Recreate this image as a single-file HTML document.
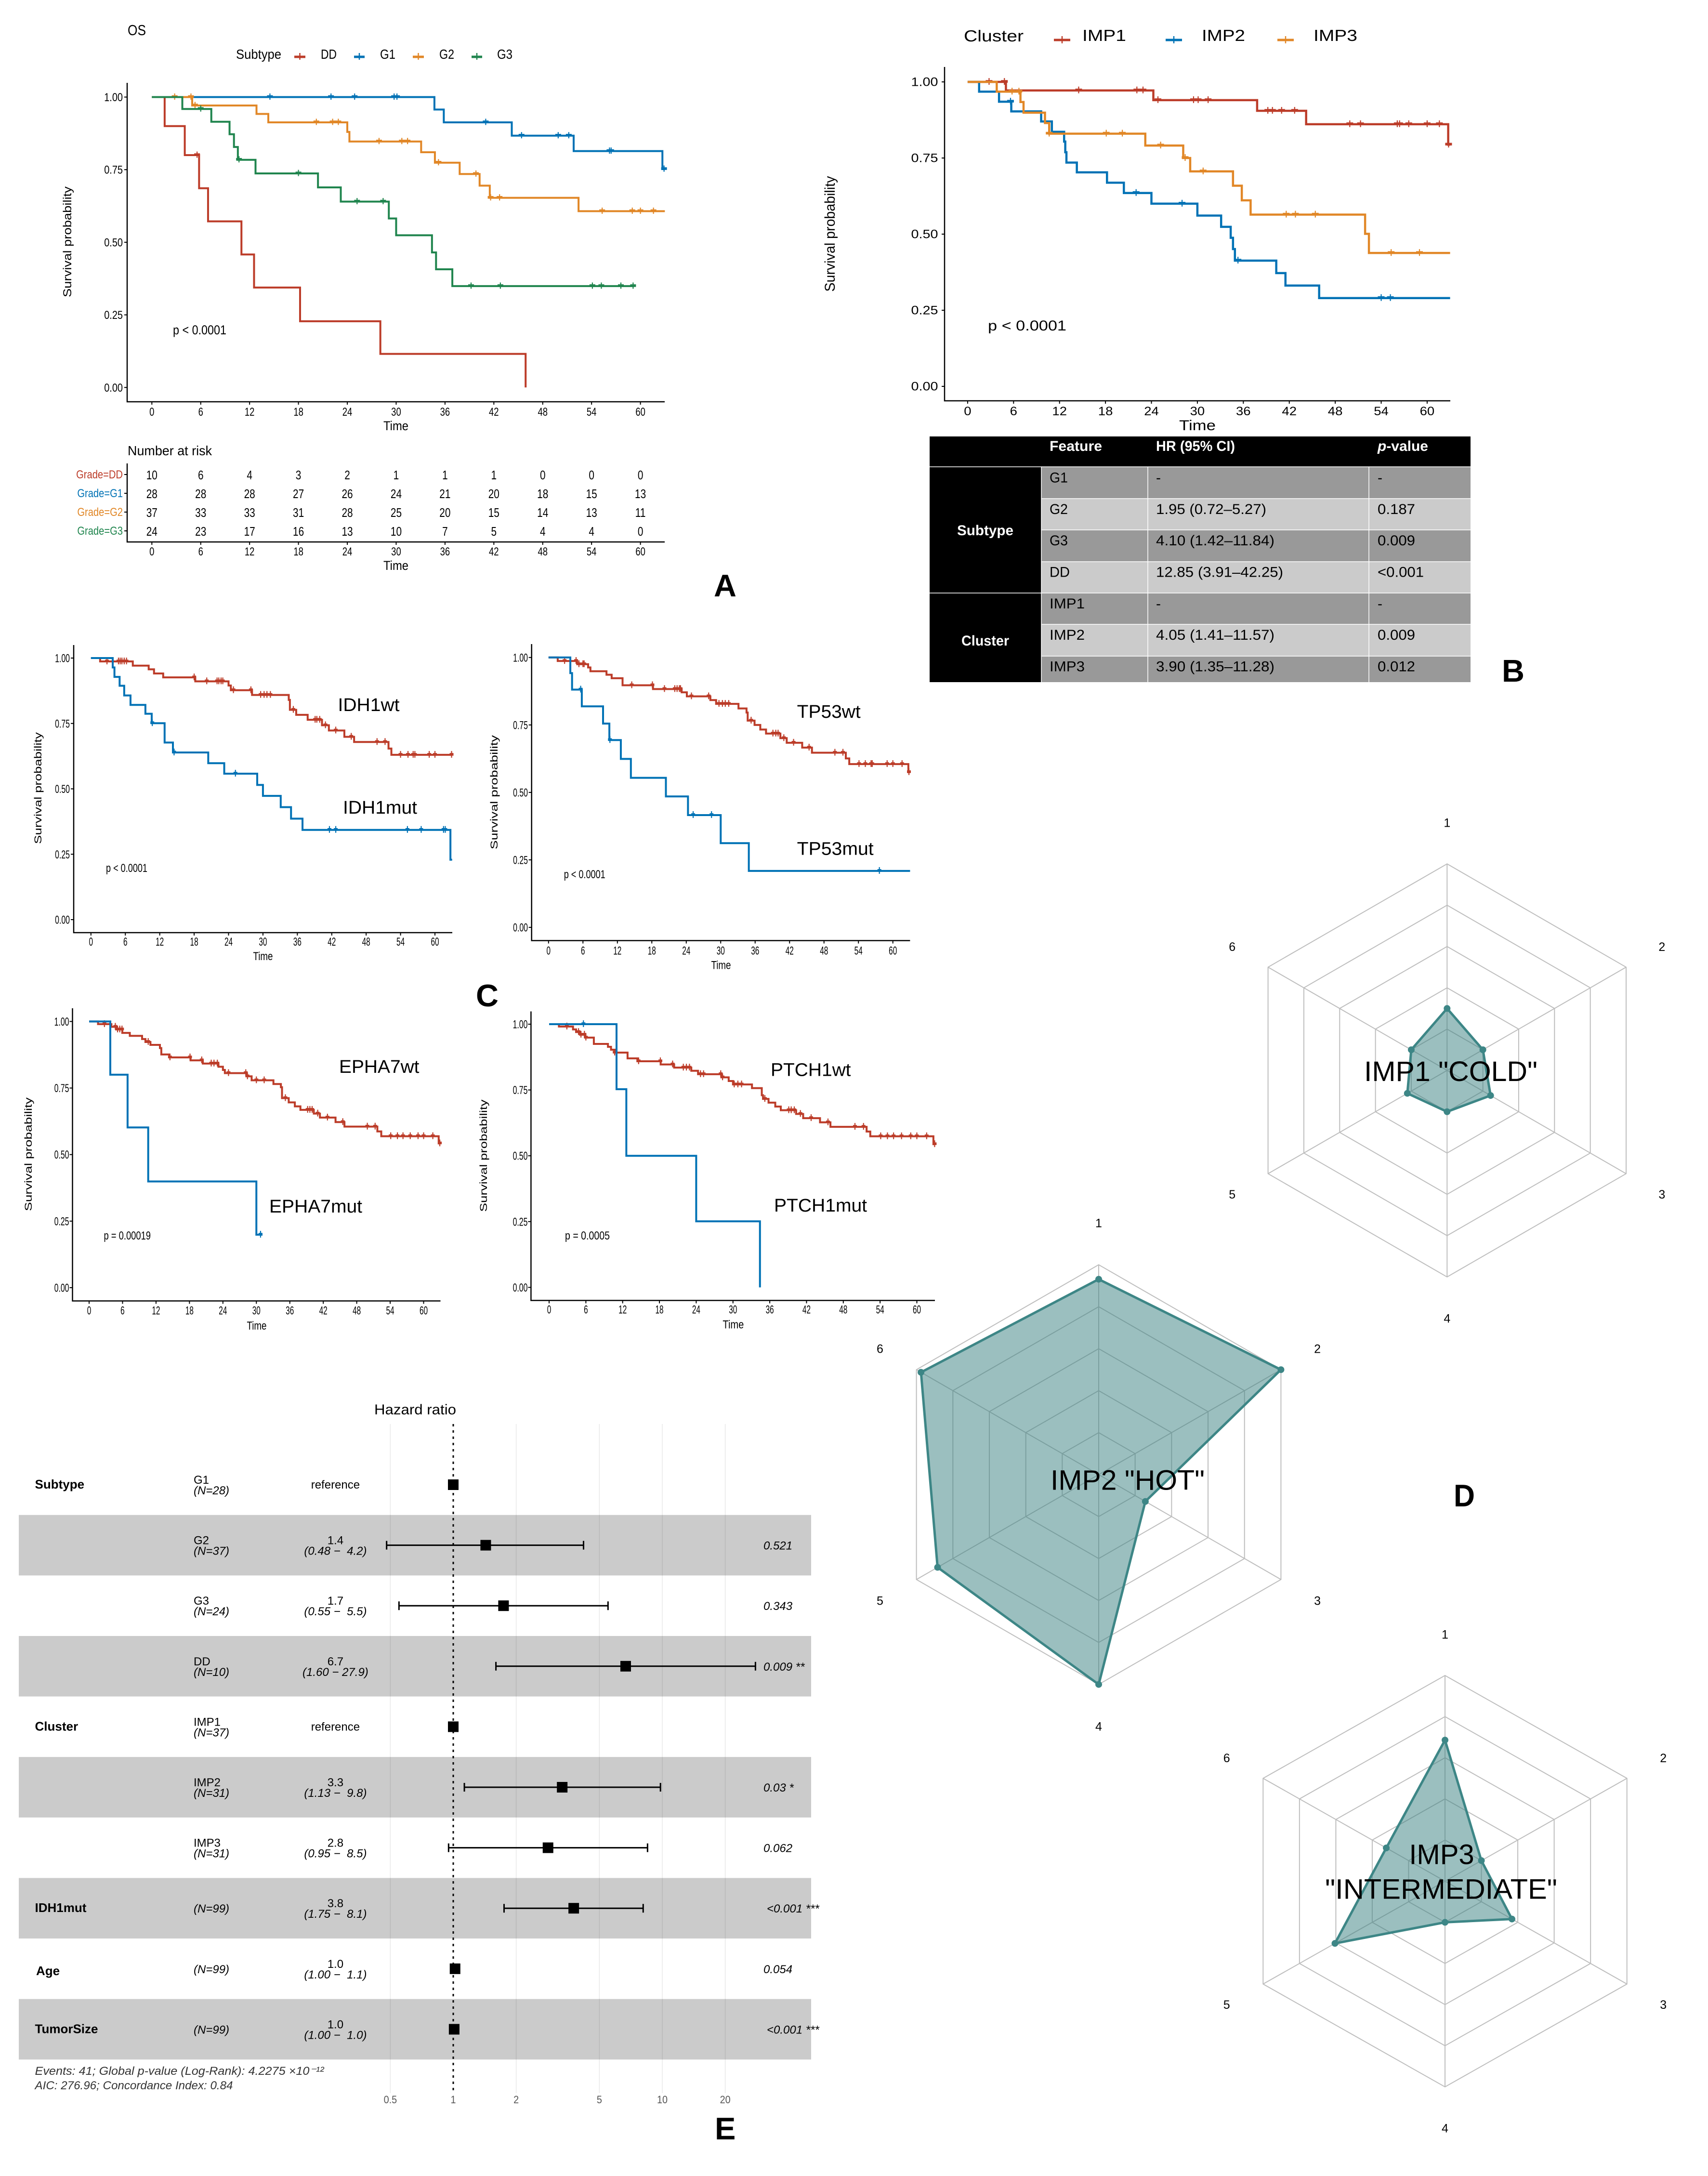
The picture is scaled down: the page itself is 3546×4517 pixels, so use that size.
<!DOCTYPE html>
<html lang="en">
<head>
<meta charset="utf-8">
<title>Survival analysis composite figure</title>
<style>
html,body{margin:0;padding:0;background:#fff;}
svg{display:block;}
text{font-family:"Liberation Sans",sans-serif;fill:#000;}
</style>
</head>
<body>
<svg id="figure" xmlns="http://www.w3.org/2000/svg" width="3546" height="4517" viewBox="0 0 3546 4517">
<rect x="0" y="0" width="3546" height="4517" fill="#fff"/>

<g id="forest-layer"></g>
<g id="km-layer"></g>
<g id="radar-layer"></g>

<!-- Panel A static text -->
<g>
<text x="265" y="73" font-size="31" textLength="38" lengthAdjust="spacingAndGlyphs">OS</text>
<text x="490" y="122" font-size="28" textLength="94" lengthAdjust="spacingAndGlyphs">Subtype</text>
<g><line x1="611" x2="634" y1="118" y2="118" stroke="#BC3C29" stroke-width="5"/><line x1="622.5" x2="622.5" y1="110" y2="124" stroke="#BC3C29" stroke-width="2.5"/></g>
<text x="666" y="122" font-size="28" textLength="33" lengthAdjust="spacingAndGlyphs">DD</text>
<g><line x1="735" x2="757" y1="118" y2="118" stroke="#0072B5" stroke-width="5"/><line x1="746" x2="746" y1="110" y2="124" stroke="#0072B5" stroke-width="2.5"/></g>
<text x="789" y="122" font-size="28" textLength="32" lengthAdjust="spacingAndGlyphs">G1</text>
<g><line x1="857" x2="880" y1="118" y2="118" stroke="#E18727" stroke-width="5"/><line x1="868.5" x2="868.5" y1="110" y2="124" stroke="#E18727" stroke-width="2.5"/></g>
<text x="912" y="122" font-size="28" textLength="31" lengthAdjust="spacingAndGlyphs">G2</text>
<g><line x1="979" x2="1001" y1="118" y2="118" stroke="#20854E" stroke-width="5"/><line x1="990" x2="990" y1="110" y2="124" stroke="#20854E" stroke-width="2.5"/></g>
<text x="1032" y="122" font-size="28" textLength="32" lengthAdjust="spacingAndGlyphs">G3</text>
<text x="359" y="694" font-size="27" textLength="111" lengthAdjust="spacingAndGlyphs">p &lt; 0.0001</text>
<text x="822" y="893" font-size="27" text-anchor="middle" textLength="52" lengthAdjust="spacingAndGlyphs">Time</text>
<text transform="translate(148,502) rotate(-90)" font-size="24" text-anchor="middle" textLength="230" lengthAdjust="spacingAndGlyphs">Survival probability</text>
<text x="265" y="945" font-size="28" textLength="175" lengthAdjust="spacingAndGlyphs">Number at risk</text>
<text x="822" y="1183" font-size="27" text-anchor="middle" textLength="52" lengthAdjust="spacingAndGlyphs">Time</text>
<text x="1482" y="1238" font-size="65" font-weight="bold">A</text>
</g>

<!-- Panel B static text -->
<g>
<text x="2001" y="86" font-size="33" textLength="124" lengthAdjust="spacingAndGlyphs">Cluster</text>
<g><line x1="2188" x2="2222" y1="83" y2="83" stroke="#BC3C29" stroke-width="5"/><line x1="2205" x2="2205" y1="75" y2="90" stroke="#BC3C29" stroke-width="2.5"/></g>
<text x="2247" y="85" font-size="33" textLength="91" lengthAdjust="spacingAndGlyphs">IMP1</text>
<g><line x1="2420" x2="2454" y1="83" y2="83" stroke="#0072B5" stroke-width="5"/><line x1="2437" x2="2437" y1="75" y2="90" stroke="#0072B5" stroke-width="2.5"/></g>
<text x="2495" y="85" font-size="33" textLength="90" lengthAdjust="spacingAndGlyphs">IMP2</text>
<g><line x1="2652" x2="2686" y1="83" y2="83" stroke="#E18727" stroke-width="5"/><line x1="2669" x2="2669" y1="75" y2="90" stroke="#E18727" stroke-width="2.5"/></g>
<text x="2727" y="85" font-size="33" textLength="91" lengthAdjust="spacingAndGlyphs">IMP3</text>
<text x="2051" y="686" font-size="30" textLength="163" lengthAdjust="spacingAndGlyphs">p &lt; 0.0001</text>
<text x="2486" y="893" font-size="30" text-anchor="middle" textLength="76" lengthAdjust="spacingAndGlyphs">Time</text>
<text transform="translate(1733,485.5) rotate(-90)" font-size="30" text-anchor="middle" textLength="240" lengthAdjust="spacingAndGlyphs">Survival probability</text>
</g>

<!-- Panel B table -->
<g>
<rect x="1930" y="906" width="1123" height="63" fill="#000"/>
<rect x="1930" y="969" width="232" height="447" fill="#000"/>
<rect x="2162" y="969" width="891" height="66" fill="#999"/>
<rect x="2162" y="1035" width="891" height="65" fill="#cbcbcb"/>
<rect x="2162" y="1100" width="891" height="66" fill="#999"/>
<rect x="2162" y="1166" width="891" height="65" fill="#cbcbcb"/>
<rect x="2162" y="1231" width="891" height="65" fill="#999"/>
<rect x="2162" y="1296" width="891" height="66" fill="#cbcbcb"/>
<rect x="2162" y="1362" width="891" height="54" fill="#999"/>
<g stroke="#fff" stroke-width="1.5">
<line x1="1930" x2="3053" y1="969" y2="969"/><line x1="1930" x2="3053" y1="1231" y2="1231"/>
<line x1="2162" x2="3053" y1="1035" y2="1035"/><line x1="2162" x2="3053" y1="1100" y2="1100"/><line x1="2162" x2="3053" y1="1166" y2="1166"/><line x1="2162" x2="3053" y1="1296" y2="1296"/><line x1="2162" x2="3053" y1="1362" y2="1362"/>
<line x1="2162" x2="2162" y1="969" y2="1416"/><line x1="2383" x2="2383" y1="969" y2="1416"/><line x1="2842" x2="2842" y1="969" y2="1416"/>
</g>
<text x="2179" y="936" font-size="30" font-weight="bold" style="fill:#fff" textLength="109" lengthAdjust="spacingAndGlyphs">Feature</text>
<text x="2400" y="936" font-size="30" font-weight="bold" style="fill:#fff" textLength="164" lengthAdjust="spacingAndGlyphs">HR (95% CI)</text>
<text x="2860" y="936" font-size="30" font-weight="bold" style="fill:#fff" textLength="105" lengthAdjust="spacingAndGlyphs"><tspan font-style="italic">p</tspan>-value</text>
<text x="1987" y="1111" font-size="30" font-weight="bold" style="fill:#fff" textLength="117" lengthAdjust="spacingAndGlyphs">Subtype</text>
<text x="1996" y="1340" font-size="30" font-weight="bold" style="fill:#fff" textLength="99" lengthAdjust="spacingAndGlyphs">Cluster</text>
<g font-size="30">
<text x="2179" y="1001.5" textLength="38" lengthAdjust="spacingAndGlyphs">G1</text>
<text x="2400" y="1001.5">-</text>
<text x="2860" y="1001.5">-</text>
<text x="2179" y="1067" textLength="38" lengthAdjust="spacingAndGlyphs">G2</text>
<text x="2400" y="1067" textLength="229" lengthAdjust="spacingAndGlyphs">1.95 (0.72–5.27)</text>
<text x="2860" y="1067" textLength="78" lengthAdjust="spacingAndGlyphs">0.187</text>
<text x="2179" y="1132" textLength="38" lengthAdjust="spacingAndGlyphs">G3</text>
<text x="2400" y="1132" textLength="246" lengthAdjust="spacingAndGlyphs">4.10 (1.42–11.84)</text>
<text x="2860" y="1132" textLength="78" lengthAdjust="spacingAndGlyphs">0.009</text>
<text x="2179" y="1197.5" textLength="42" lengthAdjust="spacingAndGlyphs">DD</text>
<text x="2400" y="1197.5" textLength="264" lengthAdjust="spacingAndGlyphs">12.85 (3.91–42.25)</text>
<text x="2860" y="1197.5" textLength="96" lengthAdjust="spacingAndGlyphs">&lt;0.001</text>
<text x="2179" y="1263" textLength="73" lengthAdjust="spacingAndGlyphs">IMP1</text>
<text x="2400" y="1263">-</text>
<text x="2860" y="1263">-</text>
<text x="2179" y="1328" textLength="73" lengthAdjust="spacingAndGlyphs">IMP2</text>
<text x="2400" y="1328" textLength="246" lengthAdjust="spacingAndGlyphs">4.05 (1.41–11.57)</text>
<text x="2860" y="1328" textLength="78" lengthAdjust="spacingAndGlyphs">0.009</text>
<text x="2179" y="1393.5" textLength="73" lengthAdjust="spacingAndGlyphs">IMP3</text>
<text x="2400" y="1393.5" textLength="246" lengthAdjust="spacingAndGlyphs">3.90 (1.35–11.28)</text>
<text x="2860" y="1393.5" textLength="78" lengthAdjust="spacingAndGlyphs">0.012</text>
</g>
<text x="3118" y="1415" font-size="65" font-weight="bold">B</text>
</g>

<!-- Panel C static text -->
<g>
<text x="701.5" y="1476" font-size="38" textLength="128" lengthAdjust="spacingAndGlyphs">IDH1wt</text>
<text x="712" y="1689" font-size="38" textLength="154" lengthAdjust="spacingAndGlyphs">IDH1mut</text>
<text x="220" y="1810" font-size="24" textLength="86" lengthAdjust="spacingAndGlyphs">p &lt; 0.0001</text>
<text x="546" y="1993" font-size="24" text-anchor="middle" textLength="41" lengthAdjust="spacingAndGlyphs">Time</text>
<text transform="translate(86,1636) rotate(-90)" font-size="21" text-anchor="middle" textLength="232" lengthAdjust="spacingAndGlyphs">Survival probability</text>

<text x="1654.7" y="1490" font-size="38" textLength="132" lengthAdjust="spacingAndGlyphs">TP53wt</text>
<text x="1654.7" y="1774.5" font-size="38" textLength="159" lengthAdjust="spacingAndGlyphs">TP53mut</text>
<text x="1170.7" y="1823" font-size="24" textLength="86" lengthAdjust="spacingAndGlyphs">p &lt; 0.0001</text>
<text x="1497" y="2011.7" font-size="24" text-anchor="middle" textLength="41" lengthAdjust="spacingAndGlyphs">Time</text>
<text transform="translate(1033,1644.6) rotate(-90)" font-size="21" text-anchor="middle" textLength="237" lengthAdjust="spacingAndGlyphs">Survival probability</text>

<text x="704" y="2227" font-size="38" textLength="166.5" lengthAdjust="spacingAndGlyphs">EPHA7wt</text>
<text x="559" y="2517" font-size="38" textLength="193" lengthAdjust="spacingAndGlyphs">EPHA7mut</text>
<text x="215.5" y="2573" font-size="24" textLength="97.5" lengthAdjust="spacingAndGlyphs">p = 0.00019</text>
<text x="533" y="2760" font-size="24" text-anchor="middle" textLength="41" lengthAdjust="spacingAndGlyphs">Time</text>
<text transform="translate(66,2396) rotate(-90)" font-size="21" text-anchor="middle" textLength="236" lengthAdjust="spacingAndGlyphs">Survival probability</text>

<text x="1600" y="2233.7" font-size="38" textLength="166.5" lengthAdjust="spacingAndGlyphs">PTCH1wt</text>
<text x="1607" y="2515" font-size="38" textLength="193" lengthAdjust="spacingAndGlyphs">PTCH1mut</text>
<text x="1173" y="2573" font-size="24" textLength="93" lengthAdjust="spacingAndGlyphs">p = 0.0005</text>
<text x="1522.4" y="2757.7" font-size="24" text-anchor="middle" textLength="44" lengthAdjust="spacingAndGlyphs">Time</text>
<text transform="translate(1011,2399) rotate(-90)" font-size="21" text-anchor="middle" textLength="233" lengthAdjust="spacingAndGlyphs">Survival probability</text>

<text x="988" y="2089" font-size="65" font-weight="bold">C</text>
</g>

<!-- Panel D static text -->
<g>
<text x="2832" y="2244" font-size="58" textLength="360" lengthAdjust="spacingAndGlyphs">IMP1 "COLD"</text>
<text x="2181" y="3092.6" font-size="58" textLength="320" lengthAdjust="spacingAndGlyphs">IMP2 "HOT"</text>
<text x="2993" y="3869.5" font-size="58" text-anchor="middle">IMP3</text>
<text x="2751" y="3941.7" font-size="58" textLength="482" lengthAdjust="spacingAndGlyphs">"INTERMEDIATE"</text>
<text x="3018" y="3127" font-size="65" font-weight="bold" textLength="44" lengthAdjust="spacingAndGlyphs">D</text>
</g>

<!-- Panel E static text -->
<g>
<text x="777" y="2936" font-size="30" textLength="170" lengthAdjust="spacingAndGlyphs">Hazard ratio</text>
<text x="72.5" y="4307" font-size="24" font-style="italic" style="fill:#333" textLength="600" lengthAdjust="spacingAndGlyphs">Events: 41; Global p-value (Log-Rank): 4.2275 ×10⁻¹²</text>
<text x="72.5" y="4337" font-size="24" font-style="italic" style="fill:#333" textLength="411" lengthAdjust="spacingAndGlyphs">AIC: 276.96; Concordance Index: 0.84</text>
<text x="1484" y="4441" font-size="65" font-weight="bold">E</text>
</g>
</svg>

<script>
// ---------- shared axis data ----------
const timeTicks = [0, 6, 12, 18, 24, 30, 36, 42, 48, 54, 60];
const survTicks = [0, 0.25, 0.5, 0.75, 1];
const survTickLabels = ['0.00', '0.25', '0.50', '0.75', '1.00'];

// ---------- Panel A: subtype ----------
const aDDTimes = [0, 1.57, 4.04, 5.8, 6.9, 11, 12.55, 18.2, 28.06, 45.9];
const aDDSurv = [1, 0.9, 0.8, 0.686, 0.572, 0.458, 0.344, 0.228, 0.1155, 0];
const aDDCensor = [5.55];
const aG1Times = [0, 34.7, 35.85, 44.2, 51.8, 62.7, 63];
const aG1Surv = [1, 0.957, 0.913, 0.867, 0.814, 0.752, 0.752];
const aG1Censor = [14.5, 22, 24.9, 29.75, 30.1, 41, 45.4, 49.9, 51.2, 56.2, 56.4, 62.9];
const aG2Times = [0, 4.95, 12.85, 14.3, 24, 24.26, 33.07, 34.76, 37.8, 40.25, 41.5, 52.4, 63];
const aG2Surv = [1, 0.971, 0.942, 0.913, 0.88, 0.847, 0.81, 0.774, 0.735, 0.695, 0.653, 0.607, 0.607];
const aG2Censor = [2.8, 4.8, 5.3, 20.2, 22.2, 22.9, 27.9, 30.7, 31.4, 35.2, 39.8, 41.6, 42.7, 55.3, 59, 60, 61.6];
const aG3Times = [0, 3.74, 7.3, 9.54, 10.08, 10.56, 12.73, 20.4, 23.2, 29.1, 30, 34.4, 34.9, 36.9, 59.2];
const aG3Surv = [1, 0.959, 0.915, 0.872, 0.828, 0.784, 0.737, 0.689, 0.64, 0.582, 0.524, 0.465, 0.407, 0.349, 0.349];
const aG3Censor = [6, 10.7, 18, 25.2, 28.4, 39.2, 42.8, 54.1, 55.2, 57.6, 59.1];

// Number-at-risk table
const riskLabels = ['Grade=DD', 'Grade=G1', 'Grade=G2', 'Grade=G3'];
const riskDD = [10, 6, 4, 3, 2, 1, 1, 1, 0, 0, 0];
const riskG1 = [28, 28, 28, 27, 26, 24, 21, 20, 18, 15, 13];
const riskG2 = [37, 33, 33, 31, 28, 25, 20, 15, 14, 13, 11];
const riskG3 = [24, 23, 17, 16, 13, 10, 7, 5, 4, 4, 0];

// ---------- Panel B: cluster ----------
const bIMP1Times = [0, 5, 24.25, 37.8, 44.2, 62.75, 63];
const bIMP1Surv = [1, 0.972, 0.94, 0.905, 0.861, 0.794, 0.794];
const bIMP1Censor = [2.8, 4.8, 14.5, 22.1, 22.9, 24.85, 29.5, 30.1, 31.4, 39.2, 39.8, 41, 42.7, 49.9, 51.3, 56.1, 56.4, 57.6, 60, 61.6, 62.8];
const bIMP2Times = [0, 1.5, 4.1, 5.7, 9.6, 11, 12.6, 12.75, 12.9, 14.26, 18.2, 20.4, 24, 30, 33.1, 34.35, 34.65, 34.9, 40.3, 41.5, 45.9, 63];
const bIMP2Surv = [1, 0.968, 0.935, 0.903, 0.87, 0.836, 0.804, 0.769, 0.735, 0.703, 0.669, 0.635, 0.6, 0.561, 0.524, 0.488, 0.451, 0.413, 0.372, 0.331, 0.29, 0.29];
const bIMP2Censor = [5.6, 22, 28, 35.3, 54, 55.2];
const bIMP3Times = [0, 3.8, 6.9, 7.3, 10.1, 10.65, 23.2, 28.15, 29.06, 34.65, 35.8, 36.95, 51.9, 52.4, 63];
const bIMP3Surv = [1, 0.968, 0.934, 0.899, 0.865, 0.83, 0.791, 0.75, 0.706, 0.659, 0.611, 0.564, 0.501, 0.438, 0.438];
const bIMP3Censor = [5.8, 6.7, 10.65, 18.1, 20.2, 25.2, 28.4, 30.75, 41.6, 42.8, 45.4, 55.3, 59];

// ---------- Panel C: mutations ----------
const idhWtTimes = [0, 1.6, 7.3, 10.07, 11, 12.6, 18.2, 24, 24.4, 28.1, 34.5, 34.7, 35.8, 37.8, 40.3, 41.5, 44.2, 45.9, 51.9, 52.4, 63];
const idhWtSurv = [1, 0.987, 0.971, 0.957, 0.941, 0.926, 0.911, 0.895, 0.877, 0.859, 0.84, 0.802, 0.783, 0.764, 0.743, 0.723, 0.699, 0.679, 0.654, 0.63, 0.63];
const idhWtCensor = [2.8, 4.8, 5.1, 5.4, 5.8, 6.2, 18, 20.2, 22, 22.3, 22.7, 23, 24.85, 27.9, 29.6, 30.2, 30.7, 31.3, 35.3, 39.1, 39.4, 39.9, 40.9, 42.7, 45.4, 49.9, 51.3, 54, 55.3, 56.2, 56.5, 59, 60, 62.9];
const idhMutTimes = [0, 3.8, 4.1, 5, 5.8, 6.9, 9.5, 10.6, 12.85, 14.3, 20.46, 23.25, 29, 30, 33.1, 34.9, 36.9, 62.7, 63];
const idhMutSurv = [1, 0.964, 0.928, 0.894, 0.857, 0.821, 0.787, 0.751, 0.677, 0.639, 0.598, 0.558, 0.515, 0.473, 0.43, 0.386, 0.343, 0.229, 0.229];
const idhMutCensor = [10.7, 14.5, 25.2, 41.6, 42.7, 55.2, 57.6, 61.5, 61.8];

const tpWtTimes = [0, 1.6, 5, 6.9, 7.3, 10.1, 11, 12.9, 18.2, 23.2, 24.1, 28.2, 29.2, 33.1, 34.5, 34.7, 35.9, 36.9, 37.9, 40.4, 41.5, 44.2, 45.9, 51.8, 52.4, 62.7, 63];
const tpWtSurv = [1, 0.987, 0.975, 0.963, 0.949, 0.936, 0.923, 0.897, 0.883, 0.871, 0.856, 0.842, 0.828, 0.811, 0.796, 0.766, 0.75, 0.733, 0.718, 0.701, 0.684, 0.666, 0.647, 0.626, 0.605, 0.575, 0.575];
const tpWtCensor = [2.8, 4.8, 5.3, 6, 6.2, 14.5, 18.1, 20.2, 22, 22.4, 22.8, 23, 24.9, 27.9, 29.7, 30.3, 30.8, 31.4, 35.3, 39.1, 39.6, 40, 41, 42.7, 45.4, 49.9, 51.3, 54.1, 55.2, 56.2, 56.4, 59, 60, 61.6, 62.8];
const tpMutTimes = [0, 3.8, 4.1, 5.8, 9.5, 10.6, 12.6, 14.35, 20.45, 24.3, 30, 34.9, 63];
const tpMutSurv = [1, 0.942, 0.881, 0.819, 0.755, 0.694, 0.624, 0.554, 0.485, 0.416, 0.312, 0.209, 0.209];
const tpMutCensor = [5.6, 10.7, 25.2, 28.4, 57.65];

const ephWtTimes = [0, 1.6, 4, 4.85, 5.95, 7.3, 9.5, 10.1, 11, 12.7, 12.95, 14.4, 18.2, 20.4, 23.2, 24, 24.35, 28.2, 29.15, 33.06, 34.4, 34.6, 35.8, 36.9, 37.9, 40.3, 41.4, 44.2, 45.8, 51.7, 52.4, 62.7, 63];
const ephWtSurv = [1, 0.99, 0.98, 0.97, 0.957, 0.946, 0.934, 0.923, 0.912, 0.9, 0.876, 0.865, 0.854, 0.842, 0.83, 0.818, 0.806, 0.794, 0.779, 0.765, 0.753, 0.712, 0.696, 0.681, 0.668, 0.654, 0.639, 0.622, 0.605, 0.587, 0.569, 0.542, 0.542];
const ephWtCensor = [2.75, 4.7, 5.1, 5.5, 5.9, 10.6, 14.5, 18.1, 20.2, 21.9, 22.4, 23, 25, 28.1, 28.4, 30, 31.4, 35.2, 39.2, 39.6, 40, 41, 42.75, 45.5, 49.9, 51.3, 54.1, 55.3, 56.3, 57.6, 59, 60, 61.65, 62.9];
const ephMutTimes = [0, 3.8, 6.9, 10.6, 30, 31.1];
const ephMutSurv = [1, 0.8, 0.602, 0.399, 0.199, 0.199];
const ephMutCensor = [30.75];

const ptcWtTimes = [0, 1.6, 3.9, 4.4, 5.06, 5.9, 7.3, 9.6, 10.1, 10.7, 12.8, 14.4, 18.2, 20.4, 23.2, 24.3, 28.1, 29.3, 30, 33.1, 34.7, 34.9, 35.8, 36.9, 37.8, 40.3, 41.45, 44.2, 45.9, 51.8, 52.4, 62.7, 63];
const ptcWtSurv = [1, 0.991, 0.98, 0.97, 0.96, 0.949, 0.925, 0.914, 0.903, 0.892, 0.87, 0.859, 0.847, 0.835, 0.823, 0.81, 0.798, 0.784, 0.771, 0.757, 0.73, 0.716, 0.702, 0.687, 0.673, 0.659, 0.643, 0.627, 0.61, 0.592, 0.574, 0.544, 0.544];
const ptcWtCensor = [2.9, 4.8, 5.2, 5.76, 6, 10.7, 14.6, 18.15, 20.15, 21.9, 22.4, 22.9, 24.7, 25.2, 28, 28.3, 30.2, 30.8, 31.4, 35.2, 39.1, 39.5, 40, 41, 42.75, 45.5, 49.9, 51.3, 54.1, 55.2, 56.2, 57.5, 59, 60, 61.6, 62.9];
const ptcMutTimes = [0, 11, 12.6, 24, 34.4];
const ptcMutSurv = [1, 0.753, 0.5, 0.251, 0];
const ptcMutCensor = [5.6];

// ---------- Panel D: radar values ----------
const radarAxes = ['1', '2', '3', '4', '5', '6'];
const radarLevels = [0.2, 0.4, 0.6, 0.8, 1];
const radarIMP1 = [0.30, 0.20, 0.243, 0.20, 0.222, 0.20];
const radarIMP2 = [0.931, 1.0, 0.256, 1.0, 0.884, 0.975];
const radarIMP3 = [0.686, 0.20, 0.368, 0.20, 0.605, 0.323];

// ---------- Panel E: forest plot ----------
const forestGroups = ['Subtype', '', '', '', 'Cluster', '', '', 'IDH1mut', 'Age', 'TumorSize'];
const forestLevelNames = ['G1', 'G2', 'G3', 'DD', 'IMP1', 'IMP2', 'IMP3', '', '', ''];
const forestCounts = ['(N=28)', '(N=37)', '(N=24)', '(N=10)', '(N=37)', '(N=31)', '(N=31)', '(N=99)', '(N=99)', '(N=99)'];
const forestHR = [1, 1.43, 1.74, 6.68, 1, 3.32, 2.84, 3.77, 1.02, 1.01];
const forestLow = [null, 0.48, 0.55, 1.6, null, 1.13, 0.95, 1.75, null, null];
const forestHigh = [null, 4.2, 5.5, 27.9, null, 9.8, 8.5, 8.1, null, null];
const forestHRLabels = ['reference', '1.4', '1.7', '6.7', 'reference', '3.3', '2.8', '3.8', '1.0', '1.0'];
const forestCILabels = ['', '(0.48 −  4.2)', '(0.55 −  5.5)', '(1.60 − 27.9)', '', '(1.13 −  9.8)', '(0.95 −  8.5)', '(1.75 −  8.1)', '(1.00 −  1.1)', '(1.00 −  1.0)'];
const forestPLabels = ['', '0.521', '0.343', '0.009 **', '', '0.03 *', '0.062', '<0.001 ***', '0.054', '<0.001 ***'];
const forestTicks = [0.5, 1, 2, 5, 10, 20];

// ---------- drawing helpers ----------
const SVG_NS = 'http://www.w3.org/2000/svg';

function el(tag, attrs, parent, name, interactable) {
  const node = document.createElementNS(SVG_NS, tag);
  for (const key in attrs) node.setAttribute(key, attrs[key]);
  
  
  parent.appendChild(node);
  return node;
}

function label(parent, name, str, x, y, size, opts) {
  const o = opts || {};
  const attrs = {
    transform: 'translate(' + x + ',' + y + ') scale(' + (o.sx || 1) + ',1)',
    'font-size': size,
    'text-anchor': o.anchor || 'start'
  };
  if (o.italic) attrs['font-style'] = 'italic';
  if (o.bold) attrs['font-weight'] = 'bold';
  if (o.fill) attrs.style = 'fill:' + o.fill;
  const node = el('text', attrs, parent, name, false);
  node.textContent = str;
  return node;
}

function survAt(times, surv, t) {
  let s = surv[0];
  for (let i = 0; i < times.length; i++) {
    if (times[i] <= t) s = surv[i];
  }
  return s;
}

function drawCurve(parent, panel, curve) {
  const g = el('g', {}, parent, panel.id + '-curve-' + curve.name, false);
  let d = 'M' + panel.xScale(curve.times[0]) + ' ' + panel.yScale(curve.surv[0]);
  for (let i = 1; i < curve.times.length; i++) {
    d += ' H' + panel.xScale(curve.times[i]) + ' V' + panel.yScale(curve.surv[i]);
  }
  el('path', { d: d, fill: 'none', stroke: curve.color, 'stroke-width': panel.lineWidth, 'stroke-linejoin': 'miter' }, g, panel.id + '-line-' + curve.name, false);
  curve.censor.forEach(function (t) {
    const cx = panel.xScale(t);
    const cy = panel.yScale(survAt(curve.times, curve.surv, t)) - 1;
    const h = panel.censorH;
    const w = panel.censorW;
    el('path', { d: 'M' + (cx - w) + ' ' + cy + ' H' + (cx + w), fill: 'none', stroke: curve.color, 'stroke-width': 5.5 }, g, panel.id + '-censor-bar-' + curve.name, false);
    el('path', { d: 'M' + cx + ' ' + (cy - h) + ' V' + (cy + h), fill: 'none', stroke: curve.color, 'stroke-width': 2.2 }, g, panel.id + '-censor-tick-' + curve.name, false);
  });
}

function drawAxes(parent, panel) {
  const g = el('g', {}, parent, panel.id + '-axes', false);
  el('path', { d: 'M' + panel.left + ' ' + panel.top + ' V' + panel.bottom + ' H' + panel.right, fill: 'none', stroke: '#000', 'stroke-width': 2.5 }, g, panel.id + '-axis-lines', false);
  timeTicks.forEach(function (t) {
    const x = panel.xScale(t);
    el('line', { x1: x, x2: x, y1: panel.bottom, y2: panel.bottom + 6, stroke: '#000', 'stroke-width': 2 }, g, panel.id + '-x-tick', false);
    label(g, panel.id + '-x-tick-label', String(t), x, panel.xLabelY, panel.tickSize, { anchor: 'middle', sx: panel.tickSxX });
  });
  survTicks.forEach(function (s, i) {
    const y = panel.yScale(s);
    el('line', { x1: panel.left - 6, x2: panel.left, y1: y, y2: y, stroke: '#000', 'stroke-width': 2 }, g, panel.id + '-y-tick', false);
    label(g, panel.id + '-y-tick-label', survTickLabels[i], panel.yLabelX, y + 8.5, panel.tickSize, { anchor: 'end', sx: panel.tickSxY });
  });
}

function makePanel(cfg) {
  cfg.xScale = function (t) { return cfg.x0 + (cfg.x60 - cfg.x0) * t / 60; };
  cfg.yScale = function (s) { return cfg.y0 + (cfg.y1 - cfg.y0) * s; };
  return cfg;
}

const RED = '#BC3C29', BLUE = '#0072B5', ORANGE = '#E18727', GREEN = '#20854E';

const panels = [
  makePanel({ id: 'subtype', x0: 315.3, x60: 1329.6, y1: 201.5, y0: 804.3, left: 264, right: 1380, top: 172, bottom: 834, xLabelY: 863, yLabelX: 255, tickSize: 24, tickSxX: 0.77, tickSxY: 0.83, lineWidth: 4, censorH: 6.5, censorW: 6,
    curves: [
      { name: 'dd', color: RED, times: aDDTimes, surv: aDDSurv, censor: aDDCensor },
      { name: 'g1', color: BLUE, times: aG1Times, surv: aG1Surv, censor: aG1Censor },
      { name: 'g2', color: ORANGE, times: aG2Times, surv: aG2Surv, censor: aG2Censor },
      { name: 'g3', color: GREEN, times: aG3Times, surv: aG3Surv, censor: aG3Censor }
    ] }),
  makePanel({ id: 'cluster', x0: 2008.9, x60: 2962.9, y1: 170, y0: 802, left: 1961, right: 3011, top: 139, bottom: 832, xLabelY: 862, yLabelX: 1947.5, tickSize: 25, tickSxX: 1.1, tickSxY: 1.15, lineWidth: 4.5, censorH: 7, censorW: 7,
    curves: [
      { name: 'imp1', color: RED, times: bIMP1Times, surv: bIMP1Surv, censor: bIMP1Censor },
      { name: 'imp2', color: BLUE, times: bIMP2Times, surv: bIMP2Surv, censor: bIMP2Censor },
      { name: 'imp3', color: ORANGE, times: bIMP3Times, surv: bIMP3Surv, censor: bIMP3Censor }
    ] }),
  makePanel({ id: 'idh1', x0: 188.8, x60: 903, y1: 1366, y0: 1909, left: 153, right: 939, top: 1339, bottom: 1936, xLabelY: 1963, yLabelX: 145, tickSize: 24, tickSxX: 0.64, tickSxY: 0.66, lineWidth: 4, censorH: 7, censorW: 4,
    curves: [
      { name: 'wt', color: RED, times: idhWtTimes, surv: idhWtSurv, censor: idhWtCensor },
      { name: 'mut', color: BLUE, times: idhMutTimes, surv: idhMutSurv, censor: idhMutCensor }
    ] }),
  makePanel({ id: 'tp53', x0: 1138.8, x60: 1853.7, y1: 1364.8, y0: 1925, left: 1103.7, right: 1889.4, top: 1337, bottom: 1952.5, xLabelY: 1981.6, yLabelX: 1096, tickSize: 24, tickSxX: 0.64, tickSxY: 0.66, lineWidth: 4, censorH: 7, censorW: 4,
    curves: [
      { name: 'wt', color: RED, times: tpWtTimes, surv: tpWtSurv, censor: tpWtCensor },
      { name: 'mut', color: BLUE, times: tpMutTimes, surv: tpMutSurv, censor: tpMutCensor }
    ] }),
  makePanel({ id: 'epha7', x0: 185, x60: 879.5, y1: 2120.4, y0: 2673, left: 150.5, right: 914.5, top: 2093, bottom: 2700.5, xLabelY: 2728.6, yLabelX: 143.5, tickSize: 24, tickSxX: 0.64, tickSxY: 0.66, lineWidth: 4, censorH: 7, censorW: 4,
    curves: [
      { name: 'wt', color: RED, times: ephWtTimes, surv: ephWtSurv, censor: ephWtCensor },
      { name: 'mut', color: BLUE, times: ephMutTimes, surv: ephMutSurv, censor: ephMutCensor }
    ] }),
  makePanel({ id: 'ptch1', x0: 1140, x60: 1903.5, y1: 2126, y0: 2672.4, left: 1102.4, right: 1941, top: 2099.5, bottom: 2699.5, xLabelY: 2726.5, yLabelX: 1095.4, tickSize: 24, tickSxX: 0.64, tickSxY: 0.66, lineWidth: 4, censorH: 7, censorW: 4,
    curves: [
      { name: 'wt', color: RED, times: ptcWtTimes, surv: ptcWtSurv, censor: ptcWtCensor },
      { name: 'mut', color: BLUE, times: ptcMutTimes, surv: ptcMutSurv, censor: ptcMutCensor }
    ] })
];

const kmLayer = document.getElementById('km-layer');
panels.forEach(function (panel) {
  const g = el('g', {}, kmLayer, panel.id + '-survival-chart', false);
  drawAxes(g, panel);
  panel.curves.forEach(function (curve) { drawCurve(g, panel, curve); });
});

// risk table
(function () {
  const panel = panels[0];
  const g = el('g', {}, kmLayer, 'risk-table', false);
  const rowTop = 985;
  const rowStep = 39;
  const left = 264, right = 1380, top = 962, bottom = 1125;
  el('path', { d: 'M' + left + ' ' + top + ' V' + bottom + ' H' + right, fill: 'none', stroke: '#000', 'stroke-width': 2.5 }, g, 'risk-table-axes', false);
  const rows = [riskDD, riskG1, riskG2, riskG3];
  const colors = [RED, BLUE, ORANGE, GREEN];
  rows.forEach(function (row, r) {
    const y = rowTop + r * rowStep;
    el('line', { x1: left - 6, x2: left, y1: y, y2: y, stroke: '#000', 'stroke-width': 2 }, g, 'risk-row-tick', false);
    label(g, 'risk-row-label', riskLabels[r], 255, y + 8, 24, { anchor: 'end', sx: 0.84, fill: colors[r] });
    row.forEach(function (n, c) {
      label(g, 'risk-count', String(n), panel.xScale(timeTicks[c]), y + 10, 26, { anchor: 'middle', sx: 0.8 });
    });
  });
  timeTicks.forEach(function (t) {
    const x = panel.xScale(t);
    el('line', { x1: x, x2: x, y1: bottom, y2: bottom + 6, stroke: '#000', 'stroke-width': 2 }, g, 'risk-x-tick', false);
    label(g, 'risk-x-tick-label', String(t), x, 1153, 24, { anchor: 'middle', sx: 0.77 });
  });
})();

// ---------- radar charts ----------
const radarLayer = document.getElementById('radar-layer');

function drawRadar(cfg) {
  const g = el('g', {}, radarLayer, cfg.name, false);
  const corners = [[0, -1], [1, -0.5], [1, 0.5], [0, 1], [-1, 0.5], [-1, -0.5]];
  function px(i, v) { return cfg.cx + corners[i][0] * cfg.rx * v; }
  function py(i, v) { return cfg.cy + corners[i][1] * cfg.ry * v; }
  radarLevels.forEach(function (lv) {
    const pts = corners.map(function (c, i) { return px(i, lv) + ',' + py(i, lv); }).join(' ');
    el('polygon', { points: pts, fill: 'none', stroke: '#bebebe', 'stroke-width': 2 }, g, 'radar-grid-ring', false);
  });
  corners.forEach(function (c, i) {
    el('line', { x1: cfg.cx, y1: cfg.cy, x2: px(i, 1), y2: py(i, 1), stroke: '#bebebe', 'stroke-width': 2 }, g, 'radar-spoke', false);
    label(g, 'radar-axis-label', radarAxes[i], px(i, 1.2), py(i, 1.2) + 9, 25, { anchor: 'middle' });
  });
  const poly = cfg.values.map(function (v, i) { return px(i, v) + ',' + py(i, v); }).join(' ');
  el('polygon', { points: poly, fill: '#37807f', 'fill-opacity': 0.5, stroke: '#3d8686', 'stroke-width': 5, 'stroke-linejoin': 'miter' }, g, 'radar-area', false);
  cfg.values.forEach(function (v, i) {
    el('circle', { cx: px(i, v), cy: py(i, v), r: 7, fill: '#3d8686' }, g, 'radar-point', false);
  });
}

drawRadar({ name: 'radar-imp1', cx: 3004.3, cy: 2222, rx: 371.7, ry: 428.7, values: radarIMP1 });
drawRadar({ name: 'radar-imp2', cx: 2281, cy: 3061, rx: 378.4, ry: 435.6, values: radarIMP2 });
drawRadar({ name: 'radar-imp3', cx: 3000, cy: 3905, rx: 377.7, ry: 427, values: radarIMP3 });

// ---------- forest plot ----------
(function () {
  const layer = document.getElementById('forest-layer');
  const rowFirst = 3082;
  const rowStep = 125.6;
  function fx(hr) { return 941 + 434 * Math.log10(hr); }
  function fy(i) { return rowFirst + rowStep * i; }

  forestHR.forEach(function (hr, i) {
    if (i % 2 === 1) {
      el('rect', { x: 39, y: fy(i) - rowStep / 2, width: 1645, height: rowStep, fill: '#cbcbcb' }, layer, 'forest-row-band', false);
    }
  });
  forestTicks.forEach(function (t) {
    const x = fx(t);
    if (t !== 1) {
      el('line', { x1: x, x2: x, y1: 2956, y2: 4345, stroke: 'rgba(0,0,0,0.09)', 'stroke-width': 1.5 }, layer, 'forest-gridline', false);
    }
    label(layer, 'forest-x-tick-label', String(t), x, 4366, 22, { anchor: 'middle', sx: 0.9, fill: '#555' });
  });
  el('line', { x1: fx(1), x2: fx(1), y1: 2956, y2: 4345, stroke: '#000', 'stroke-width': 3, 'stroke-dasharray': '5 8' }, layer, 'forest-reference-line', false);

  forestHR.forEach(function (hr, i) {
    const c = fy(i);
    if (forestGroups[i]) {
      label(layer, 'forest-variable-label', forestGroups[i], forestGroups[i] === 'Age' ? 75 : 72.5, c + (forestGroups[i] === 'Age' ? 13 : 8), 26, { bold: true });
    }
    if (forestLevelNames[i]) {
      label(layer, 'forest-level-label', forestLevelNames[i], 402, c - 2, 24);
      label(layer, 'forest-count-label', forestCounts[i], 402, c + 20, 24, { italic: true });
    } else {
      label(layer, 'forest-count-label', forestCounts[i], 402, c + 9, 24, { italic: true });
    }
    if (forestCILabels[i]) {
      label(layer, 'forest-hr-label', forestHRLabels[i], 696.4, c - 2, 24, { anchor: 'middle' });
      label(layer, 'forest-ci-label', forestCILabels[i], 696.4, c + 20, 24, { anchor: 'middle', italic: true }).setAttribute('style', 'white-space:pre');
    } else {
      label(layer, 'forest-hr-label', forestHRLabels[i], 696.4, c + 8, 24, { anchor: 'middle' });
    }
    if (forestPLabels[i]) {
      label(layer, 'forest-p-label', forestPLabels[i], forestPLabels[i].charAt(0) === '<' ? 1592 : 1585, c + 9, 24, { italic: true });
    }
    if (forestLow[i] !== null) {
      const lo = fx(forestLow[i]);
      const hi = fx(forestHigh[i]);
      el('path', { d: 'M' + lo + ' ' + (c - 9) + ' V' + (c + 9) + ' M' + lo + ' ' + c + ' H' + hi + ' M' + hi + ' ' + (c - 9) + ' V' + (c + 9), fill: 'none', stroke: '#000', 'stroke-width': 3 }, layer, 'forest-ci-bar', false);
    }
    el('rect', { x: fx(hr) - 11, y: c - 11, width: 22, height: 22, fill: '#000' }, layer, 'forest-hr-marker', false);
  });
})();
</script>
</body>
</html>
